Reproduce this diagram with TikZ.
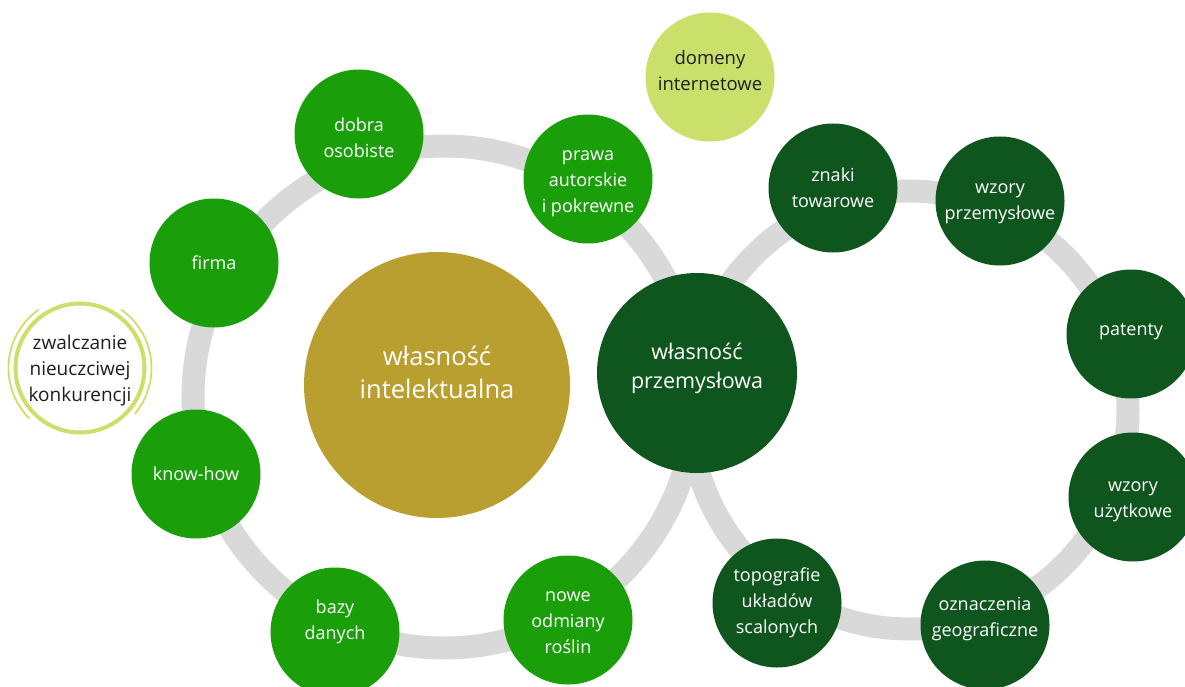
\documentclass[tikz,border=0pt]{standalone}
\usepackage{fontspec}
\setmainfont{Open Sans}
\definecolor{midg}{RGB}{26,159,11}
\definecolor{darkg}{RGB}{15,86,30}
\definecolor{goldc}{RGB}{185,158,48}
\definecolor{lightg}{RGB}{203,224,106}
\definecolor{ringc}{RGB}{217,217,217}
\definecolor{txtd}{RGB}{30,30,30}
\begin{document}
\begin{tikzpicture}[x=1pt,y=-1pt,
  ring/.style={draw=ringc, line width=23pt},
  bub/.style={circle, inner sep=0pt, minimum size=129pt},
  midb/.style={bub, fill=midg},
  darkb/.style={bub, fill=darkg},
  lightb/.style={bub, fill=lightg},
  bigo/.style={circle, inner sep=0pt},
  wt/.style={align=center, inner sep=0pt, text=white, font=\fontsize{18}{26}\selectfont},
  dt/.style={align=center, inner sep=0pt, text=txtd, font=\fontsize{18.5}{26}\selectfont}
]
\useasboundingbox (0,0) rectangle (1185,687);
% ring centres
\coordinate (lc) at (444,397);
\coordinate (rc) at (909,410);
\draw[ring] (lc) circle[radius=251pt];
\draw[ring] (rc) circle[radius=219pt];

% central nodes
\node[bigo, fill=goldc, minimum size=266pt] (wi) at (437,385) {};
\node[wt, font=\fontsize{25.5}{33}\selectfont, yshift=13pt] at (wi) {własność\\intelektualna};
\node[bigo, fill=darkg, minimum size=200pt] (wp) at (697,373) {};
\node[wt, font=\fontsize{21.5}{29}\selectfont, yshift=4.5pt] at (wp) {własność\\przemysłowa};

% left ring nodes
\node[midb] (dobra) at (359,134) {};
\node[wt, yshift=-4pt] at (dobra) {dobra\\osobiste};
\node[midb] (prawa) at (588,179) {};
\node[wt, yshift=-5pt] at (prawa) {prawa\\autorskie\\i pokrewne};
\node[midb] (firma) at (214,263) {};
\node[wt] at (firma) {firma};
\node[midb] (know) at (196,474) {};
\node[wt] at (know) {know-how};
\node[midb] (bazy) at (335,632) {};
\node[wt, yshift=10pt] at (bazy) {bazy\\danych};
\node[midb] (nowe) at (568,620) {};
\node[wt, yshift=-3pt] at (nowe) {nowe\\odmiany\\roślin};

% right ring nodes
\node[darkb] (znaki) at (833,188) {};
\node[wt] at (znaki) {znaki\\towarowe};
\node[darkb] (wzp) at (1000,201) {};
\node[wt, yshift=-2.5pt] at (wzp) {wzory\\przemysłowe};
\node[darkb] (pat) at (1131,334) {};
\node[wt, yshift=2pt] at (pat) {patenty};
\node[darkb] (wzu) at (1133,497) {};
\node[wt, yshift=-5pt] at (wzu) {wzory\\użytkowe};
\node[darkb] (ozn) at (985,625) {};
\node[wt, yshift=6pt] at (ozn) {oznaczenia\\geograficzne};
\node[darkb] (topo) at (777,603) {};
\node[wt] at (topo) {topografie\\układów\\scalonych};

% others
\node[lightb] (dom) at (710,77) {};
\node[dt, yshift=6pt] at (dom) {domeny\\internetowe};
\node[bub, fill=white, draw=lightg, line width=4pt] (zw) at (80,368) {};
\node[dt, font=\fontsize{19}{26}\selectfont, yshift=-3pt] at (zw) {zwalczanie\\nieuczciwej\\konkurencji};
\draw[lightg, line width=1.8pt] (zw.center) ++(125:71.5pt) arc[start angle=125, end angle=225, radius=71.5pt];
\draw[lightg, line width=1.8pt] (zw.center) ++(-40:71.5pt) arc[start angle=-40, end angle=55, radius=71.5pt];
\end{tikzpicture}
\end{document}
